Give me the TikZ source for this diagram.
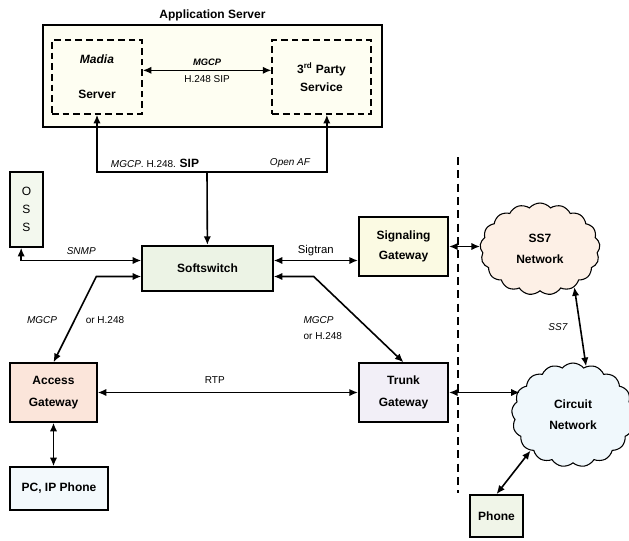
\documentclass[tikz,border=0pt]{standalone}
\usepackage{fontspec}
\setmainfont{Liberation Sans}
\usetikzlibrary{arrows.meta,shapes.symbols}

\definecolor{appfill}{RGB}{254,254,242}
\definecolor{softfill}{RGB}{236,243,229}
\definecolor{ossfill}{RGB}{243,248,238}
\definecolor{sgfill}{RGB}{251,250,227}
\definecolor{agfill}{RGB}{251,229,218}
\definecolor{tgfill}{RGB}{242,239,247}
\definecolor{pcfill}{RGB}{243,249,252}
\definecolor{phonefill}{RGB}{240,245,232}
\definecolor{ssfill}{RGB}{253,240,230}
\definecolor{cirfill}{RGB}{240,248,252}

\tikzset{
  box/.style={draw, line width=1.3pt, inner sep=0pt, align=center,
    font=\bfseries\fontsize{9}{16}\selectfont},
  dbox/.style={box, line width=1.1pt, dash pattern=on 5pt off 3pt},
  net/.style={cloud, cloud puffs=17, cloud puff arc=100, aspect=1.3, draw,
    line width=0.8pt, inner sep=0pt, align=center,
    font=\bfseries\fontsize{9}{16}\selectfont},
  link/.style={line width=1.2pt},
  lbl/.style={inner sep=1pt, font=\fontsize{7.5}{9}\selectfont},
  ilbl/.style={inner sep=1pt, font=\itshape\fontsize{7.5}{9}\selectfont},
}

\begin{document}
\begin{tikzpicture}[x=0.75pt, y=-0.75pt, >={Latex[length=6.5pt,width=5.5pt]}]
  \useasboundingbox (0,0) rectangle (629,540);%

  % application server
  \node[box, fill=appfill, minimum width=254pt, minimum height=76.5pt] (app) at (212.5,76) {};%
  \node[anchor=south, inner sep=2pt, font=\bfseries\fontsize{9}{11}\selectfont] (apptitle) at (app.north) {Application Server};%
  \node[dbox, minimum width=67.5pt, minimum height=55.5pt] (madia) at (97,77) {\textit{Madia}\\[10pt]Server};%
  \node[dbox, minimum width=74pt, minimum height=55.5pt] (third) at (321.5,77) {3\textsuperscript{rd} Party\\[-3pt]Service};%
  \draw[link,<->] ([yshift=5pt]madia.east) -- ([yshift=5pt]madia.east -| third.west)
    node[midway, above=2pt, ilbl, font=\bfseries\itshape\fontsize{7}{9}\selectfont] {MGCP}
    node[midway, below=2pt, lbl] {H.248 SIP};%

  % bus down to the softswitch
  \node[box, fill=softfill, minimum width=98pt, minimum height=34pt] (soft) at (207.5,268.5) {Softswitch};%
  \coordinate (bus) at (207,172);%
  \draw[link,<->] (madia.south) |- (bus) -| ([xshift=4pt]third.south);%
  \draw[link,->] (bus) -- (soft);%
  \node[lbl] (buslbl) at (155,163) {\textit{MGCP}. H.248. {\bfseries\fontsize{9}{9}\selectfont SIP}};%
  \node[ilbl] (openaf) at (290,163) {Open AF};%

  % OSS
  \node[box, fill=ossfill, minimum width=25pt, minimum height=56pt,
    font=\fontsize{9}{13.5}\selectfont] (oss) at (26.5,209.5) {O\\S\\S};%
  \draw[link,<->] ([xshift=-4pt]oss.south) |- ([yshift=6pt]soft.west)
    node[pos=0.75, above=3pt, ilbl] {SNMP};%

  % access side
  \node[box, fill=agfill, minimum width=65pt, minimum height=44pt] (ag) at (53.5,392.5) {Access\\Gateway};%
  \node[box, fill=pcfill, minimum width=73.5pt, minimum height=32pt] (pc) at (59,488.5) {PC, IP Phone};%
  \draw[link,<->] ([yshift=-6pt]soft.west) -- ++(-45,0) -- (ag.north);%
  \node[ilbl] (mgcpa) at (42,320) {MGCP};%
  \node[lbl] (h248a) at (105,320) {or H.248};%
  \draw[link,<->] (ag.south) -- (ag.south |- pc.north);%

  % signaling and trunk gateways
  \node[box, fill=sgfill, minimum width=67pt, minimum height=44pt] (sg) at (403.5,246.5) {Signaling\\[-1pt]Gateway};%
  \node[box, fill=tgfill, minimum width=67pt, minimum height=44pt] (tg) at (403.5,392.5) {Trunk\\Gateway};%
  \draw[link,<->] ([yshift=6pt]soft.east) -- ([yshift=6pt]soft.east -| sg.west)
    node[midway, above=2pt, lbl, font=\fontsize{8.5}{9}\selectfont] {Sigtran};%
  \draw[link,<->] ([yshift=-6pt]soft.east) -- ++(40,0) -- (tg.north);%
  \node[ilbl, anchor=west] (mgcpt) at (302,320) {MGCP};%
  \node[lbl, anchor=west] (h248t) at (302,336) {or H.248};%
  \draw[link,<->] (ag) -- (tg) node[pos=0.45, above=5pt, lbl] {RTP};%

  % divider
  \coordinate (divtop) at (458,157);%
  \coordinate (divbot) at (458,493);%
  \draw[line width=1pt, dash pattern=on 6pt off 4pt] (divtop) -- (divbot);%

  % networks
  \node[net, fill=ssfill, minimum width=90pt, minimum height=69pt] (ss7) at (540,249) {SS7\\Network};%
  \node[net, fill=cirfill, minimum width=92pt, minimum height=78pt] (circuit) at (573,415) {Circuit\\Network};%
  \node[box, fill=phonefill, minimum width=40pt, minimum height=31.5pt] (phone) at (496.5,516) {Phone};%
  \draw[link,<->] (sg.east) -- (sg.east -| ss7.west);%
  \draw[link,<->] (ss7.-48) -- (circuit.75) node[midway, left=8pt, ilbl] {SS7};%
  \draw[link,<->] (tg.east) -- ([xshift=6pt]tg.east -| circuit.west);%
  \draw[link,<->] (phone.north) -- (circuit.220);%
\end{tikzpicture}
\end{document}
